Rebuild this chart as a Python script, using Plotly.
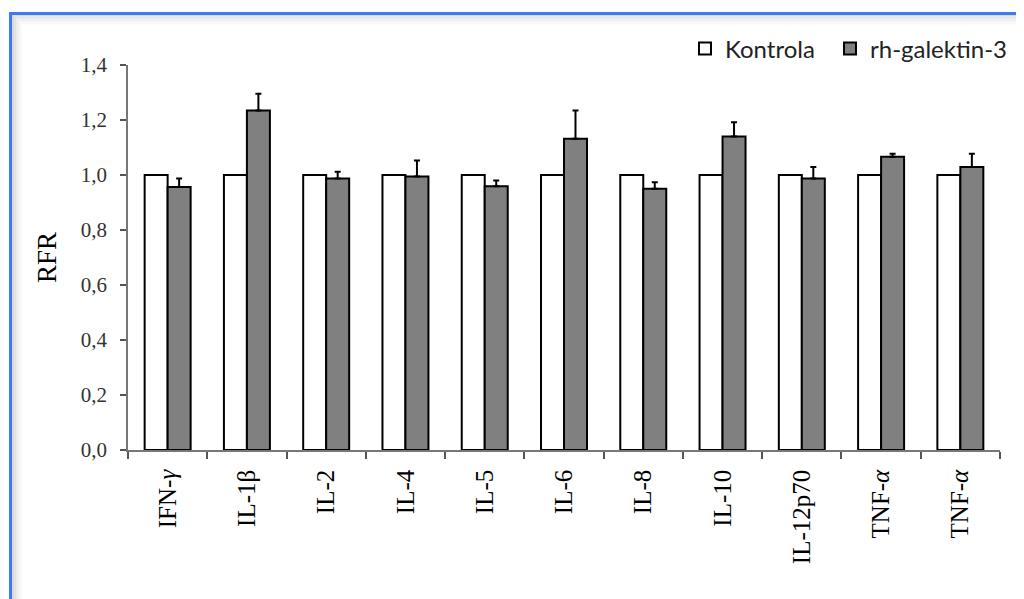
import plotly.graph_objects as go

# ─── Data ──────────────────────────────────────────────────────────────────────

categories = ["IFN-<i>γ</i>", "IL-1β", "IL-2", "IL-4", "IL-5", "IL-6", "IL-8",
              "IL-10", "IL-12p70", "TNF-<i>α</i>", "TNF-<i>α</i>"]
kontrola = [1.0, 1.0, 1.0, 1.0, 1.0, 1.0, 1.0, 1.0, 1.0, 1.0, 1.0]
galektin = [0.956, 1.235, 0.987, 0.995, 0.959, 1.132, 0.950, 1.140, 0.987, 1.066, 1.029]
galektin_err = [0.031, 0.060, 0.025, 0.058, 0.021, 0.103, 0.024, 0.052, 0.042, 0.011, 0.048]
y_ticks = [0, 0.2, 0.4, 0.6, 0.8, 1.0, 1.2, 1.4]

# duplicate labels (two TNF-α) -> numeric positions + ticktext
pos = list(range(len(categories)))

SERIF = "Liberation Serif, Times New Roman, serif"
SANS = "Lato, Open Sans, sans-serif"

fig = go.Figure()
fig.add_trace(go.Bar(
    x=pos, y=kontrola, name="Kontrola", legend="legend",
    marker=dict(color="white", line=dict(color="black", width=2)),
))
fig.add_trace(go.Bar(
    x=pos, y=galektin, name="rh-galektin-3", legend="legend2",
    marker=dict(color="#808080", line=dict(color="black", width=2)),
    error_y=dict(type="data", array=galektin_err, symmetric=False,
                 arrayminus=[0] * len(galektin_err),
                 color="black", thickness=2, width=3),
))

# the page body adds an 8px offset, so everything is placed 8px up/left
OFF = 8
W, H = 1024 - OFF, 599 - OFF
L, R, T, B = 128 - OFF, 1000 - OFF, 64.5 - OFF, 450 - OFF


def px_x(p):
    return (p - OFF - L) / (R - L)


def px_y(p):
    return (B - (p - OFF)) / (B - T)


shapes = []
# soft grey shadow inside the blue frame
for i, c in enumerate(["#d9d9d9", "#e3e3e3", "#ececec", "#f3f3f3", "#f9f9f9"]):
    off = 13 + 2 * i
    shapes.append(dict(type="line", xref="paper", yref="paper",
                       x0=px_x(off), x1=px_x(off), y0=px_y(off), y1=px_y(620),
                       line=dict(color=c, width=2)))
    shapes.append(dict(type="line", xref="paper", yref="paper",
                       x0=px_x(off), x1=px_x(1030), y0=px_y(off + 2), y1=px_y(off + 2),
                       line=dict(color=c, width=2)))
# blue frame
shapes.append(dict(type="line", xref="paper", yref="paper",
                   x0=px_x(10.5), x1=px_x(10.5), y0=px_y(11.5), y1=px_y(620),
                   line=dict(color="#3b7cf5", width=3)))
shapes.append(dict(type="line", xref="paper", yref="paper",
                   x0=px_x(9), x1=px_x(1030), y0=px_y(13), y1=px_y(13),
                   line=dict(color="#3b7cf5", width=3)))

legend_style = dict(orientation="h", xanchor="left", yanchor="middle", y=px_y(48.5),
                    font=dict(family=SANS, size=24, color="#222"),
                    bgcolor="rgba(0,0,0,0)")

fig.update_layout(
    width=W, height=H,
    margin=dict(l=L, r=W - R, t=T, b=H - B),
    paper_bgcolor="white", plot_bgcolor="white",
    separators=",.",
    barmode="group", bargap=0.42, bargroupgap=0,
    shapes=shapes,
    showlegend=True,
    legend=dict(x=px_x(685), **legend_style),
    legend2=dict(x=px_x(830), **legend_style),
    xaxis=dict(range=[-0.5, len(categories) - 0.5], tickvals=pos, ticktext=categories,
               tickangle=-90, ticks="", showline=True, linecolor="#777", linewidth=1.5,
               showgrid=False, zeroline=False, ticklabelstandoff=8,
               tickfont=dict(family=SERIF, size=25, color="black"),
               minor=dict(tick0=-0.5, dtick=1, ticks="outside", ticklen=7,
                          tickcolor="#555", tickwidth=1.5, showgrid=False)),
    yaxis=dict(range=[0, 1.4], tickvals=y_ticks, tickformat=".1f", ticks="outside",
               ticklen=6, tickcolor="#555", tickwidth=1.5, showline=True,
               linecolor="#777", linewidth=1.5, showgrid=False, zeroline=False,
               ticklabelstandoff=9,
               tickfont=dict(family=SERIF, size=21, color="#333"),
               title=dict(text="RFR", font=dict(family=SERIF, size=27, color="black"),
                          standoff=16)),
)

fig.write_html("out.html")
